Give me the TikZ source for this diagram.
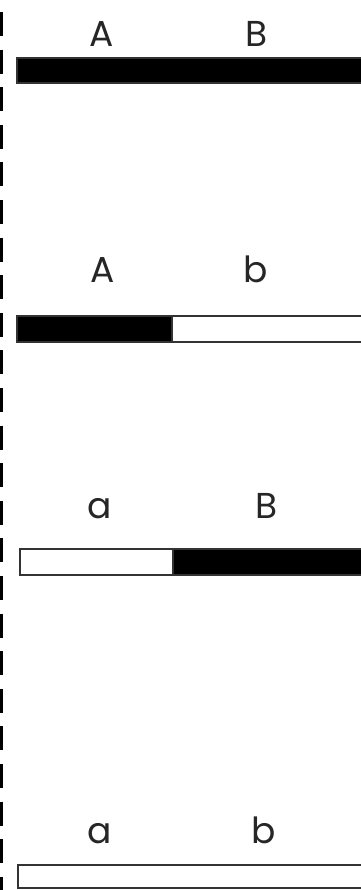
\documentclass[tikz,border=0pt]{standalone}
\usepackage{fontspec}
\setmainfont{Poppins}
\begin{document}
\begin{tikzpicture}[x=1pt,y=-1pt,
  lbl/.style={anchor=base,inner sep=0pt,font=\fontsize{36}{36}\selectfont,text=black!85},
  blackbar/.style={fill=black,draw=black!80,line width=1.2pt},
  whitebar/.style={fill=white,draw=black!80,line width=1.5pt},
  sep/.style={line width=3pt,dash pattern=on 24pt off 13.6pt}]
\useasboundingbox (0,0) rectangle (360,890);
% left dashed separator
\coordinate (top) at (1.5,12);
\coordinate (bot) at (1.5,892);
\draw[sep] (top) -- (bot);
% row 1
\node[lbl] (r1a) at (102,47) {A};
\node[lbl] (r1b) at (257,47) {B};
\draw[blackbar] (17,58) rectangle (362,83);
% row 2
\node[lbl] (r2a) at (103,282) {A};
\node[lbl] (r2b) at (256,282) {b};
\draw[whitebar] (172,316) rectangle (362,342);
\draw[blackbar] (17,316) rectangle (172,342);
% row 3
\node[lbl] (r3a) at (100,518) {a};
\node[lbl] (r3b) at (267,518) {B};
\draw[whitebar] (20,549) rectangle (173,575);
\draw[blackbar] (173,549) rectangle (362,575);
% row 4
\node[lbl] (r4a) at (100,843) {a};
\node[lbl] (r4b) at (264,843) {b};
\draw[whitebar] (18,865) rectangle (362,888);
\end{tikzpicture}
\end{document}
